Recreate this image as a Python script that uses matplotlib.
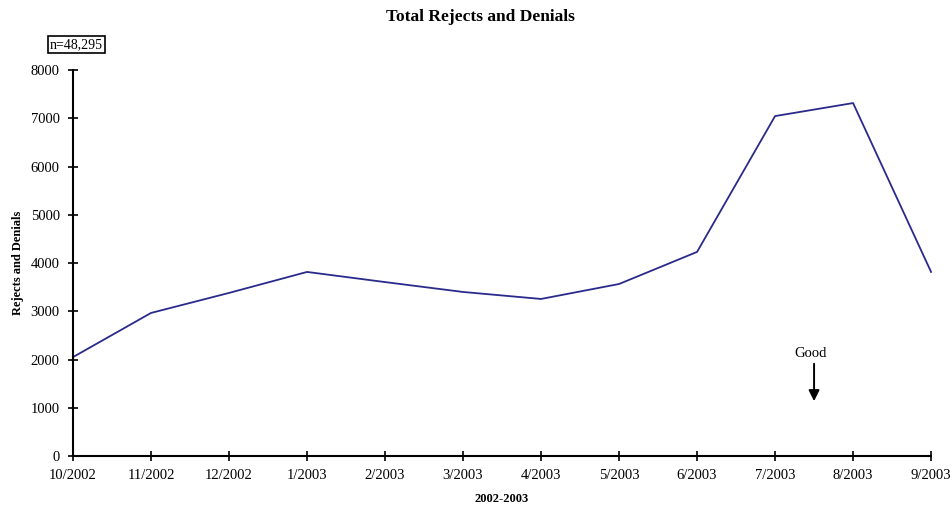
import matplotlib
matplotlib.use('Agg')
import matplotlib.pyplot as plt

months = ['10/2002', '11/2002', '12/2002', '1/2003', '2/2003', '3/2003',
          '4/2003', '5/2003', '6/2003', '7/2003', '8/2003', '9/2003']
rejects = [2050, 2965, 3380, 3815, 3605, 3400, 3255, 3565, 4230, 7045, 7315, 3815]

plt.rcParams['font.family'] = ['Liberation Serif', 'DejaVu Serif']

fig = plt.figure(figsize=(9.53, 5.11), dpi=100)
ax = fig.add_axes([0.0766, 0.1076, 0.9004, 0.7554])

x = list(range(len(months)))
ax.plot(x, rejects, color='#2a2a8c', linewidth=1.3, clip_on=False)

ax.set_xlim(0, len(months) - 1)
ax.set_ylim(0, 8000)
ax.set_xticks(x)
ax.set_xticklabels(months)
ax.set_yticks(range(0, 8001, 1000))
ax.tick_params(direction='inout', length=7, width=1.2, labelsize=10.5, pad=6)

for side in ['top', 'right']:
    ax.spines[side].set_visible(False)
for side in ['left', 'bottom']:
    ax.spines[side].set_linewidth(1.5)

ax.set_xlabel('2002-2003', fontsize=9, fontweight='bold', labelpad=8)
ax.set_ylabel('Rejects and Denials', fontsize=9, fontweight='bold', labelpad=5)
fig.text(0.504, 0.966, 'Total Rejects and Denials', ha='center', va='center',
         fontsize=12.5, fontweight='bold')

# sample size box
fig.text(0.08, 0.913, 'n=48,295', ha='center', va='center', fontsize=10,
         bbox=dict(boxstyle='square,pad=0.15', facecolor='white', edgecolor='black', linewidth=1.2))

# "Good" marker
ax.text(9.46, 2120, 'Good', ha='center', va='center', fontsize=10.5)
ax.annotate('', xy=(9.5, 1080), xytext=(9.5, 1970),
            arrowprops=dict(arrowstyle='-|>', color='black', linewidth=1.4, mutation_scale=16))

fig.savefig('out.png', dpi=100)
